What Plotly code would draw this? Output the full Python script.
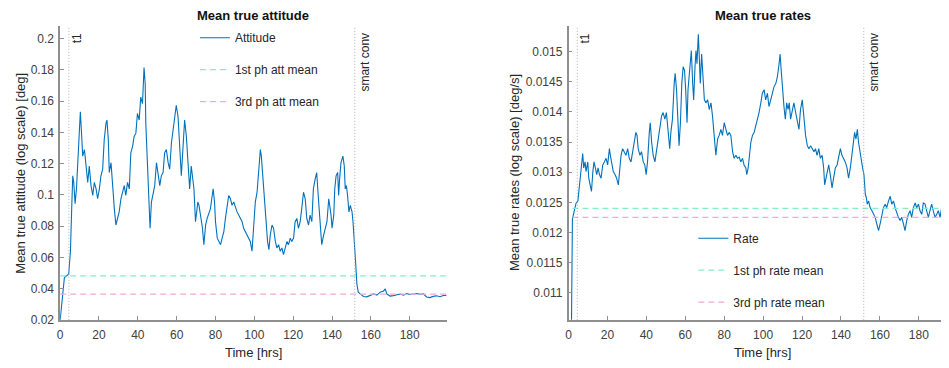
import plotly.graph_objects as go

# ---------------- data ----------------
att_t = [0, 2.2, 4.4, 5.3, 6.0, 6.5, 7.0, 7.7, 8.4, 9.1, 9.9, 10.4, 11.1, 11.6, 12.5, 13.3, 14.2, 15.0,
         15.9, 16.8, 17.6, 18.5, 19.3, 20.2, 21.0, 21.9, 22.7, 23.6, 24.1, 24.8, 25.3, 26.2, 27.0, 27.9,
         28.7, 29.6, 30.4, 31.3, 32.1, 33.0, 33.8, 34.7, 35.6, 36.4, 37.3, 38.1, 39.0, 39.8, 40.7, 41.5,
         42.4, 43.2, 43.8, 44.1, 45.0, 45.8, 46.3, 47.0, 47.9, 48.7, 49.6, 50.4, 51.3, 52.1, 53.0, 53.8,
         54.7, 55.6, 56.4, 57.3, 58.1, 59.0, 59.8, 60.7, 61.5, 62.4, 63.2, 64.1, 65.0, 65.8, 66.7, 67.5,
         68.9, 69.7, 70.3, 70.9, 71.5, 72.0, 72.6, 73.3, 74.0, 74.9, 75.7, 76.6, 77.4, 78.3, 78.8, 79.5,
         80.0, 80.9, 81.7, 82.6, 83.4, 84.3, 85.1, 86.0, 86.8, 87.7, 88.5, 89.4, 90.3, 91.1, 92.0, 92.8,
         93.7, 94.5, 95.4, 96.2, 97.1, 97.9, 98.8, 99.7, 100.5, 101.4, 102.2, 103.1, 103.6, 104.3, 105.1,
         106.0, 106.8, 107.5, 108.2, 109.1, 109.9, 110.8, 111.6, 112.5, 113.3, 114.2, 115.0, 115.9, 116.8,
         117.6, 118.5, 119.3, 120.2, 121.0, 121.9, 122.7, 123.6, 124.4, 125.3, 126.2, 127.0, 127.9, 128.7,
         129.6, 130.4, 131.3, 132.1, 133.0, 133.8, 134.7, 135.7, 136.6, 137.4, 138.3, 138.8, 139.5, 140.0,
         140.9, 141.4, 142.1, 142.9, 143.4, 143.9, 144.6, 145.6, 146.3, 146.8, 147.4, 148.0, 148.7, 149.4,
         150.3, 150.8, 151.5, 152.1, 152.8, 153.5, 154.5, 156.2, 157.9, 159.7, 161.4, 163.1, 164.8, 166.5,
         167.4, 168.2, 169.9, 171.6, 173.3, 175.0, 176.8, 178.5, 180.2, 181.9, 183.6, 185.3, 187.0, 188.7,
         190.4, 192.1, 193.8, 195.6, 197.3, 199.0]
att_v = [0.0198, 0.0471, 0.0492, 0.0639, 0.0933, 0.1122, 0.108, 0.0944, 0.1038, 0.1248, 0.1395, 0.1532,
         0.1374, 0.1248, 0.129, 0.1206, 0.108, 0.1185, 0.1059, 0.0996, 0.108, 0.1038, 0.0975, 0.1038,
         0.1122, 0.1164, 0.1353, 0.1458, 0.1479, 0.1353, 0.1143, 0.1206, 0.1038, 0.0912, 0.0807, 0.0849,
         0.0891, 0.0975, 0.1017, 0.1059, 0.0996, 0.108, 0.1038, 0.1269, 0.1311, 0.1374, 0.1395, 0.1521,
         0.1479, 0.1626, 0.1584, 0.1815, 0.171, 0.1458, 0.1185, 0.0912, 0.0786, 0.0954, 0.1017, 0.1059,
         0.1206, 0.1143, 0.1059, 0.1122, 0.1143, 0.1269, 0.129, 0.1206, 0.1164, 0.1332, 0.1416, 0.1521,
         0.1574, 0.15, 0.1311, 0.1122, 0.129, 0.1479, 0.1374, 0.1206, 0.1038, 0.1185,
         0.1038, 0.0828, 0.0912, 0.0954, 0.0933, 0.0891, 0.0849, 0.0786, 0.0681, 0.0807, 0.0849, 0.0891,
         0.0912, 0.0996, 0.1038, 0.0954, 0.0828, 0.0723, 0.0702, 0.0681, 0.0723, 0.0765, 0.0849, 0.0912,
         0.0996, 0.0975, 0.0933, 0.0954, 0.0912, 0.0891, 0.087, 0.0849, 0.0828, 0.0786, 0.0765, 0.0744,
         0.0723, 0.0702, 0.0639, 0.0828, 0.0954, 0.1017, 0.1143, 0.129, 0.1248, 0.1122, 0.1017, 0.087,
         0.0702, 0.0649, 0.0744, 0.0807, 0.0786, 0.0702, 0.066, 0.0681, 0.0639, 0.066, 0.0618, 0.066,
         0.0702, 0.0681, 0.0723, 0.0702, 0.0723, 0.0828, 0.0849, 0.0786, 0.0828, 0.0912, 0.1017, 0.0975,
         0.0849, 0.0807, 0.087, 0.0828, 0.1038, 0.1101, 0.1143, 0.0975, 0.0807, 0.0681,
         0.0744, 0.0786, 0.0828, 0.0975, 0.0933, 0.087, 0.0786, 0.087, 0.1038, 0.1122, 0.1143, 0.0996,
         0.1101, 0.1206, 0.1248, 0.1185, 0.1038, 0.1059, 0.0996, 0.0891, 0.0933, 0.0891, 0.0828, 0.0723,
         0.0576, 0.0429, 0.0377, 0.0366, 0.0349, 0.0347, 0.0358, 0.0366, 0.0358, 0.0377, 0.0385, 0.0398,
         0.0366, 0.0352, 0.0355, 0.0362, 0.0365, 0.0358, 0.0368, 0.0362, 0.0365, 0.0368, 0.0364, 0.0366,
         0.0346, 0.0342, 0.0350, 0.0354, 0.0348, 0.0356, 0.0356]

rate_t = [0, 1.5, 2.0, 2.6, 3.1, 3.9, 4.8, 5.6, 6.1, 6.8, 7.3, 7.8, 8.5, 9.0, 9.9, 10.4, 11.1, 11.8, 12.5,
          13.1, 13.8, 14.5, 15.2, 15.9, 16.7, 17.6, 18.4, 19.3, 20.1, 21.0, 21.5, 22.2, 23.0, 23.9, 24.7,
          25.6, 26.1, 27.0, 27.8, 28.7, 29.5, 30.4, 31.2, 32.1, 32.9, 33.8, 34.6, 35.2, 35.8, 36.7, 37.5,
          38.4, 39.2, 39.9, 40.6, 41.5, 42.0, 42.7, 43.5, 44.4, 45.2, 46.1, 46.9, 47.8, 48.6, 49.5, 50.3,
          51.2, 52.0, 52.6, 53.4, 54.3, 54.8, 55.5, 56.1, 56.8, 57.5, 58.2, 58.9, 59.6, 60.2, 60.9, 61.4,
          62.3, 63.1, 63.8, 64.3, 65.0, 65.5, 66.0, 66.7, 67.2, 67.7, 68.4, 69.1, 69.8, 70.6, 71.5, 72.3,
          73.2, 74.0, 74.9, 75.7, 76.6, 77.4, 78.3, 79.1, 80.0, 80.9, 81.7, 82.6, 83.4, 84.3, 85.1, 86.0,
          86.8, 87.7, 88.5, 89.4, 90.2, 91.1, 91.6, 92.3, 93.0, 93.7, 94.5, 95.4, 96.2, 97.1, 97.9, 98.8,
          99.6, 100.5, 101.3, 102.2, 103.0, 103.9, 104.7, 105.6, 106.5, 107.3, 108.2, 108.7, 109.4, 110.0,
          110.7, 111.4, 112.1, 112.8, 113.4, 114.1, 115.0, 115.8, 116.7, 117.5, 118.4, 119.2, 120.1, 120.9,
          121.8, 122.7, 123.5, 124.4, 125.2, 126.1, 126.9, 127.7, 128.6, 129.4, 130.3, 131.1, 131.6, 132.3,
          133.0, 133.7, 134.5, 135.4, 136.2, 137.1, 138.0, 138.8, 139.7, 140.5, 141.4, 142.2, 143.1, 143.9,
          144.8, 145.6, 146.5, 147.0, 147.7, 148.4, 149.0, 149.7, 150.4, 151.1, 151.8, 152.5, 153.0, 153.5,
          154.2, 155.0, 155.9, 156.7, 157.6, 158.4, 159.3, 160.1, 161.0, 161.8, 162.7, 163.5, 164.4, 165.3,
          166.1, 167.0, 167.8, 168.7, 169.5, 170.4, 171.2, 172.1, 172.9, 173.8, 174.6, 175.5, 176.3, 177.2,
          178.1, 178.9, 179.8, 180.6, 181.5, 182.3, 183.2, 184.0, 184.9, 185.7, 186.6, 187.4, 188.3, 189.2,
          190.0, 190.9, 191.7, 192.6, 193.4, 194.3, 195.1, 196.5, 199.0]
rate_v = [0.0100, 0.0104, 0.01222, 0.01230, 0.01241, 0.01249, 0.01252, 0.01274, 0.01296, 0.01312,
          0.01331, 0.01307, 0.01317, 0.01301, 0.01317, 0.0129, 0.01279, 0.01268, 0.01301, 0.01317,
          0.01307, 0.01296, 0.01307, 0.01296, 0.0129, 0.01312, 0.01317, 0.01323, 0.01312, 0.01339,
          0.01328, 0.01312, 0.01301, 0.01296, 0.0129, 0.01279, 0.01296, 0.01328, 0.01339, 0.01334,
          0.01328, 0.01339, 0.01323, 0.01317, 0.01334, 0.0135, 0.01366, 0.01361, 0.01339, 0.01328,
          0.01334, 0.01317, 0.01312, 0.01296, 0.01317, 0.01366, 0.01382, 0.0135, 0.01328, 0.01317,
          0.01334, 0.01355, 0.01377, 0.01393, 0.01399, 0.01388, 0.01399, 0.01371, 0.01339, 0.01366,
          0.01388, 0.01447, 0.01464, 0.01437, 0.01382, 0.01344, 0.01382, 0.01447, 0.01475, 0.01469,
          0.01437, 0.01382, 0.01437, 0.0148, 0.01502, 0.01447, 0.0142, 0.01475, 0.01502, 0.0148,
          0.01529, 0.01491, 0.01447, 0.01496, 0.01447, 0.0142, 0.01415, 0.0142, 0.01404, 0.01415,
          0.01393, 0.01361, 0.01328, 0.01355, 0.01361, 0.01371, 0.01361, 0.01382, 0.01371, 0.01361,
          0.01366, 0.01361, 0.01334, 0.01323, 0.01328, 0.01323, 0.01325, 0.01317, 0.01323, 0.01312,
          0.01307, 0.01296, 0.01307, 0.01328, 0.0135, 0.01361, 0.01366, 0.01377, 0.01388, 0.01399,
          0.01415, 0.01431, 0.01437, 0.0142, 0.01431, 0.01409, 0.0142, 0.01431, 0.01442, 0.01447,
          0.01458, 0.0148, 0.01496, 0.01464, 0.01431, 0.01409, 0.01388, 0.01415, 0.01404, 0.01415,
          0.01388, 0.01404, 0.01415, 0.01399, 0.01382, 0.01371, 0.01404, 0.0142, 0.01393, 0.01361,
          0.01344, 0.01339, 0.01344, 0.01339, 0.01334, 0.01339, 0.01328, 0.01339, 0.01323, 0.01328,
          0.01307, 0.01279, 0.0129, 0.01301, 0.01312, 0.01296, 0.01274, 0.0129, 0.01307, 0.01312,
          0.01328, 0.01339, 0.01328, 0.01323, 0.01317, 0.01307, 0.0129, 0.01307, 0.01328, 0.01361,
          0.01366, 0.01355, 0.01371, 0.0135, 0.01334, 0.01317, 0.01307, 0.01296, 0.01263, 0.01258,
          0.01247, 0.01252, 0.01241, 0.01236, 0.0123, 0.01225, 0.01214, 0.01203, 0.01214, 0.0123,
          0.01241, 0.01247, 0.01241, 0.01252, 0.0126, 0.01247, 0.01252, 0.01241, 0.0123, 0.01225,
          0.0122, 0.01225, 0.01214, 0.01203, 0.0122, 0.0123, 0.01236, 0.01225, 0.01241, 0.01249,
          0.01241, 0.01247, 0.01236, 0.0123, 0.01249, 0.01247, 0.01236, 0.01225, 0.01236, 0.01247,
          0.01236, 0.01225, 0.0123, 0.01236, 0.01225, 0.01241, 0.01249, 0.01241, 0.0123, 0.01225,
          0.01232, 0.01228]

att_mean_1st = 0.0481
att_mean_3rd = 0.0365
rate_mean_1st = 0.01240
rate_mean_3rd = 0.01225
t1_time = 4.5
smart_conv_time = 151.7
t_end = 199

att_yticks = [0.02, 0.04, 0.06, 0.08, 0.1, 0.12, 0.14, 0.16, 0.18, 0.2]
att_yticklabels = ["0.02", "0.04", "0.06", "0.08", "0.1", "0.12", "0.14", "0.16", "0.18", "0.2"]
rate_yticks = [0.011, 0.0115, 0.012, 0.0125, 0.013, 0.0135, 0.014, 0.0145, 0.015]
rate_yticklabels = ["0.011", "0.0115", "0.012", "0.0125", "0.013", "0.0135", "0.014", "0.0145", "0.015"]
xticks = [0, 20, 40, 60, 80, 100, 120, 140, 160, 180]

# ---------------- styling ----------------
OFF = 8                      # page body margin in the browser
W, H = 949 - OFF, 368 - OFF
BLUE = "#0072BD"
AQUA = "#86eccc"
PINK = "#f5a6da"
AXC = "#8f8f8f"
TXT = "#404040"
FONT = "Liberation Sans, Arial, sans-serif"


def px(x):
    return (x - OFF) / W


def py(y):
    return 1 - (y - OFF) / H


fig = go.Figure()

# left panel
fig.add_trace(go.Scatter(x=att_t, y=att_v, mode="lines", name="Attitude",
                         line=dict(color=BLUE, width=1.1), xaxis="x", yaxis="y",
                         legend="legend", legendgroup="a"))
fig.add_trace(go.Scatter(x=[0, t_end], y=[att_mean_1st, att_mean_1st], mode="lines",
                         name="1st ph att mean", line=dict(color=AQUA, width=1.2, dash="6px,4px"),
                         xaxis="x", yaxis="y", legend="legend", legendgroup="b"))
fig.add_trace(go.Scatter(x=[0, t_end], y=[att_mean_3rd, att_mean_3rd], mode="lines",
                         name="3rd ph att mean", line=dict(color=PINK, width=1.2, dash="6px,4px"),
                         xaxis="x", yaxis="y", legend="legend", legendgroup="c"))

# right panel
fig.add_trace(go.Scatter(x=rate_t, y=rate_v, mode="lines", name="Rate",
                         line=dict(color=BLUE, width=1.1), xaxis="x2", yaxis="y2",
                         legend="legend2", legendgroup="d"))
fig.add_trace(go.Scatter(x=[2, t_end], y=[rate_mean_1st, rate_mean_1st], mode="lines",
                         name="1st ph rate mean", line=dict(color=AQUA, width=1.2, dash="6px,4px"),
                         xaxis="x2", yaxis="y2", legend="legend2", legendgroup="e"))
fig.add_trace(go.Scatter(x=[2, t_end], y=[rate_mean_3rd, rate_mean_3rd], mode="lines",
                         name="3rd ph rate mean", line=dict(color=PINK, width=1.2, dash="6px,4px"),
                         xaxis="x2", yaxis="y2", legend="legend2", legendgroup="f"))

axis_common = dict(showline=True, linecolor=AXC, linewidth=1.5, ticks="inside", ticklen=4,
                   tickcolor=AXC, showgrid=False, zeroline=False,
                   tickfont=dict(family=FONT, size=12, color=TXT))

ytop = py(26.7)
ybot = py(326)

fig.update_layout(
    width=W, height=H,
    margin=dict(l=0, r=0, t=0, b=0),
    paper_bgcolor="white", plot_bgcolor="white",
    font=dict(family=FONT, size=12, color=TXT),
    xaxis=dict(domain=[px(57.3), px(445)], range=[0, t_end], tickvals=xticks,
               anchor="y", ticklabelstandoff=3, **axis_common),
    yaxis=dict(domain=[ybot, ytop], range=[0.02, 0.2079], tickvals=att_yticks,
               ticktext=att_yticklabels, anchor="x", ticklabelstandoff=2, **axis_common),
    xaxis2=dict(domain=[px(567.3), 1.0], range=[0, 195.5], tickvals=xticks,
                anchor="y2", ticklabelstandoff=3, **axis_common),
    yaxis2=dict(domain=[ybot, ytop], range=[0.01055, 0.01542], tickvals=rate_yticks,
                ticktext=rate_yticklabels, anchor="x2", ticklabelstandoff=2, **axis_common),
    legend=dict(x=px(192.5), y=py(23.5), xanchor="left", yanchor="top",
                bgcolor="rgba(0,0,0,0)", borderwidth=0, tracegroupgap=13,
                font=dict(family=FONT, size=12, color="#262626")),
    legend2=dict(x=px(692.5), y=py(228), xanchor="left", yanchor="top",
                 bgcolor="rgba(0,0,0,0)", borderwidth=0, tracegroupgap=13,
                 font=dict(family=FONT, size=12, color="#262626")),
)

# vertical marker lines
for xr, yr in (("x", "y domain"), ("x2", "y2 domain")):
    for tv in (t1_time, smart_conv_time):
        fig.add_shape(type="line", xref=xr, yref=yr, x0=tv, x1=tv, y0=0, y1=1,
                      line=dict(color="#b0b0b0", width=1, dash="1px,2px"))
    fig.add_annotation(xref=xr, yref=yr, x=t1_time, y=1, text="t1", textangle=-90,
                       showarrow=False, xanchor="center", yanchor="top", xshift=8, yshift=-5,
                       font=dict(family=FONT, size=12, color="#262626"))
    fig.add_annotation(xref=xr, yref=yr, x=smart_conv_time, y=1, text="smart conv",
                       textangle=-90, showarrow=False, xanchor="center", yanchor="top",
                       xshift=10, yshift=-4, font=dict(family=FONT, size=12, color="#262626"))

# titles and axis labels
title_font = dict(family=FONT, size=13, color="#111111")
lab_font = dict(family=FONT, size=13, color="#262626")


def label(x, y, text, font, angle=0):
    fig.add_annotation(xref="paper", yref="paper", x=px(x), y=py(y), text=text,
                       showarrow=False, xanchor="center", yanchor="middle",
                       textangle=angle, font=font)


label(251, 16, "<b>Mean true attitude</b>", title_font)
label(762, 16, "<b>Mean true rates</b>", title_font)
label(251, 359, "Time [hrs]", lab_font)
label(762, 359, "Time [hrs]", lab_font)
label(18, 176, "Mean true attitude (log scale) [deg]", lab_font, -90)
label(513, 176, "Mean true rates (log scale) [deg/s]", lab_font, -90)

fig.write_html("out.html")
